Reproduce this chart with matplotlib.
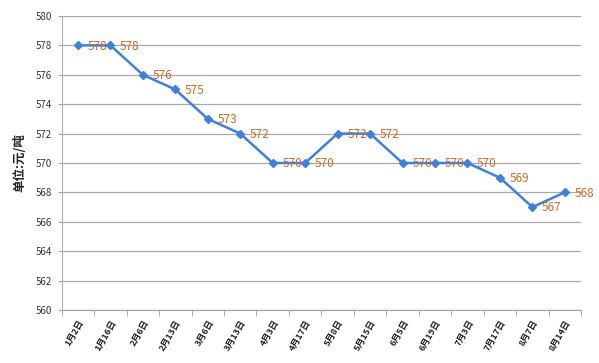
import numpy as np
import matplotlib
matplotlib.use('Agg')
import matplotlib.pyplot as plt
from matplotlib.ticker import FixedLocator

plt.rcParams['font.family'] = ['Noto Sans CJK SC', 'DejaVu Sans']

dates = ['1月2日', '1月16日', '2月6日', '2月13日', '3月6日', '3月13日', '4月3日', '4月17日',
         '5月8日', '5月15日', '6月5日', '6月19日', '7月3日', '7月17日', '8月7日', '8月14日']
prices = [578, 578, 576, 575, 573, 572, 570, 570, 572, 572, 570, 570, 570, 569, 567, 568]

fig = plt.figure(figsize=(5.99, 3.63), dpi=100)
ax = fig.add_axes([0.103, 0.146, 0.867, 0.81])

x = np.arange(len(dates))
ax.plot(x, prices, color='#3F80DC', lw=1.8, marker='D', ms=4.5, zorder=3)
for xi, v in zip(x, prices):
    ax.annotate(str(v), (xi, v), xytext=(7, -0.5), textcoords='offset points',
                va='center', ha='left', fontsize=8.5, color='#D2691E', zorder=4)

ax.set_xlim(-0.5, len(dates) - 0.5)
ax.set_ylim(560, 580)
ax.set_yticks(range(560, 581, 2))
ax.set_xticks(x)
ax.set_xticklabels(dates, rotation=60, ha='right', rotation_mode='anchor',
                   fontsize=6.5, fontweight='bold', color='#222222')
ax.xaxis.set_minor_locator(FixedLocator(np.arange(-0.5, len(dates), 1)))
ax.tick_params(axis='x', which='major', length=0, pad=6)
ax.tick_params(axis='x', which='minor', length=4, color='#A0A0A0')
ax.tick_params(axis='y', length=3, color='#A0A0A0', labelsize=7, labelcolor='#333333', pad=4)

ax.grid(axis='y', color='#A8A8A8', lw=0.9)
ax.set_axisbelow(True)
for s in ['top', 'right']:
    ax.spines[s].set_visible(False)
ax.spines['left'].set_color('#B0B0B0')
ax.spines['bottom'].set_color('#A0A0A0')

ax.set_ylabel('单位:元/吨', fontsize=9, fontweight='bold', color='#222222', labelpad=7)

fig.savefig('out.png', dpi=100)
